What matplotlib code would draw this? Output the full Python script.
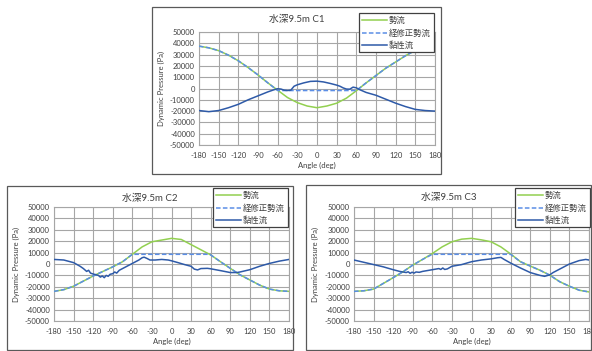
import matplotlib
matplotlib.use("Agg")
import matplotlib.pyplot as plt
from matplotlib.patches import Rectangle
from matplotlib.lines import Line2D

plt.rcParams['font.family'] = ['Lato', 'Noto Sans CJK JP', 'DejaVu Sans']
plt.rcParams['axes.unicode_minus'] = False

W, H = 592, 351

# --- data ---
ang15 = [-180, -165, -150, -135, -120, -105, -90, -75, -60, -45, -30, -15, 0,
         15, 30, 45, 60, 75, 90, 105, 120, 135, 150, 165, 180]

c1_pot = [37500, 36000, 33500, 29500, 24500, 18500, 12000, 5000, -1500, -8000, -12500, -15500, -17000,
          -15500, -13000, -8500, -2000, 5000, 11500, 18000, 23500, 29000, 33800, 36500, 38000]
c1_mod_ang = [-180, -165, -150, -135, -120, -105, -90, -75, -60, 60, 75, 90, 105, 120, 135, 150, 165, 180]
c1_mod = [37500, 36000, 33500, 29500, 24500, 18500, 12000, 5000, -1800, -1800, 5000, 11500, 18000,
          23500, 29000, 33800, 36500, 38000]
c1_vis_ang = [-180, -165, -150, -135, -120, -105, -90, -75, -65, -60, -55, -50, -45, -40, -35, -30,
              -20, -10, 0, 10, 20, 30, 35, 40, 45, 50, 55, 60, 65, 75, 90, 105, 120, 135, 150, 165, 180]
c1_vis = [-19500, -20500, -19500, -17000, -14000, -10000, -6500, -3000, -1000, -200, -500, -1500,
          -1800, -1500, 2000, 3300, 5000, 6300, 6500, 5800, 4500, 3000, 2000, 500, -500, -600, 1200,
          600, -1000, -3500, -6000, -9500, -13000, -16000, -18500, -19500, -20000]

c2_pot = [-24000, -22500, -19500, -15000, -10500, -6500, -2500, 2000, 8500, 15000, 19500, 21000, 22500,
          21500, 17000, 12500, 8000, 2000, -3800, -9500, -14000, -18500, -22000, -23500, -24000]
c2_mod_ang = [-180, -165, -150, -135, -120, -105, -90, -75, -60, 58, 60, 75, 90, 105, 120, 135, 150, 165, 180]
c2_mod = [-24000, -22500, -19500, -15000, -10500, -6500, -2500, 2000, 8500, 8500, 8000, 2000, -3800,
          -9500, -14000, -18500, -22000, -23500, -24000]
c2_vis_ang = [-180, -165, -150, -140, -135, -130, -127, -124, -120, -115, -112, -109, -106, -103, -100,
              -97, -94, -90, -87, -84, -80, -75, -70, -65, -60, -55, -50, -45, -42, -38, -33, -25, -15,
              -5, 0, 10, 20, 30, 35, 40, 45, 55, 60, 75, 90, 100, 105, 120, 135, 150, 165, 180]
c2_vis = [4000, 3500, 1200, -2000, -4000, -6500, -5500, -8000, -8800, -9500, -10000, -11500, -10500,
          -12000, -10000, -10800, -9000, -8500, -7000, -8000, -5500, -4000, -2500, -1000, 500, 2000, 3500,
          5500, 6000, 5000, 3500, 3500, 4000, 3500, 2800, 1200, -500, -2000, -4500, -5200, -4000, -3800,
          -4200, -5800, -7500, -7500, -7000, -5000, -2000, 500, 2500, 4000]

c3_pot = [-24000, -23500, -22000, -17000, -12000, -6800, -1000, 4000, 9200, 15000, 19500, 21800, 22500,
          21200, 19500, 15000, 8800, 2000, -1800, -5500, -9800, -15500, -19500, -23000, -24500]
c3_mod_ang = [-180, -165, -150, -135, -120, -105, -90, -75, -60, 60, 75, 90, 105, 120, 135, 150, 165, 180]
c3_mod = [-24000, -23500, -22000, -17000, -12000, -6800, -1000, 4000, 8500, 8500, 2000, -1800, -5500,
          -9800, -15500, -19500, -23000, -24500]
c3_vis_ang = [-180, -165, -150, -135, -120, -110, -105, -100, -97, -94, -91, -88, -85, -80, -75, -70,
              -65, -60, -55, -50, -47, -44, -41, -37, -30, -15, 0, 15, 30, 40, 45, 50, 60, 75, 90, 105,
              112, 120, 125, 135, 150, 165, 175, 180]
c3_vis = [3500, 1500, -500, -2500, -5000, -6500, -7000, -7500, -6800, -8200, -7200, -8000, -7000, -7300,
          -6500, -6000, -5500, -5000, -4500, -4000, -4800, -3500, -4800, -4300, -2000, -500, 2000, 3500,
          4500, 5500, 5800, 4000, 800, -3500, -7500, -10000, -10800, -9500, -7500, -4500, 0, 3000, 4000, 3500]

titles = ['水深9.5m C1', '水深9.5m C2', '水深9.5m C3']
labels = ['勢流', '経修正勢流', '黏性流']
xticks = list(range(-180, 181, 30))
yticks = list(range(-50000, 50001, 10000))

GREEN = '#92D050'
LBLUE = '#5B8EE6'
DBLUE = '#2E5AA8'
GRID = '#A6A6A6'


def fx(px):
    return px / W


def fy(py):
    return 1 - py / H


def panel(fig, frame, plot, legend_at, title, pot, mod_ang, mod, vis_ang, vis):
    fl, ft, fr, fb = frame
    fig.add_artist(Rectangle((fx(fl), fy(fb)), fx(fr - fl), (fb - ft) / H,
                             transform=fig.transFigure, fill=False, edgecolor='#595959', lw=0.9))
    pl, pt, pr, pb = plot
    ax = fig.add_axes([fx(pl), fy(pb), fx(pr - pl), (pb - pt) / H])
    ax.plot(ang15, pot, color=GREEN, lw=1.1, zorder=3)
    ax.plot(mod_ang, mod, color=LBLUE, lw=1.1, ls=(0, (3, 1.5)), zorder=4)
    ax.plot(vis_ang, vis, color=DBLUE, lw=1.1, zorder=5)
    ax.set_xlim(-180, 180)
    ax.set_ylim(-50000, 50000)
    ax.set_xticks(xticks)
    ax.set_yticks(yticks)
    ax.tick_params(length=0, labelsize=5.5, colors='#404040', pad=3)
    ax.tick_params(axis='x', pad=5)
    ax.grid(True, color=GRID, lw=0.8)
    for s in ax.spines.values():
        s.set_color(GRID)
        s.set_linewidth(0.8)
    ax.set_axisbelow(True)

    cx = (fl + fr) / 2
    fig.text(fx(cx), fy(ft + 12), title, ha='center', va='center', fontsize=7, color='#404040')
    fig.text(fx((pl + pr) / 2), fy(fb - 9), 'Angle (deg)', ha='center', va='center',
             fontsize=5.5, color='#404040')
    fig.text(fx(fl + 9), fy((pt + pb) / 2), 'Dynamic Pressure (Pa)', ha='center', va='center',
             rotation=90, fontsize=5.5, color='#404040')

    handles = [Line2D([], [], color=GREEN, lw=1.1),
               Line2D([], [], color=LBLUE, lw=1.1, ls=(0, (3, 1.5))),
               Line2D([], [], color=DBLUE, lw=1.1)]
    leg = ax.legend(handles, labels, loc='upper left',
                    bbox_to_anchor=(fx(legend_at[0]), fy(legend_at[1])),
                    bbox_transform=fig.transFigure, fontsize=6, fancybox=False,
                    framealpha=1, edgecolor='#404040', handlelength=3.0,
                    handletextpad=0.2, labelspacing=0.45, borderpad=0.4, borderaxespad=0)
    leg.get_frame().set_linewidth(0.9)
    leg.set_zorder(10)
    for t in leg.get_texts():
        t.set_color('#404040')
    return ax


fig = plt.figure(figsize=(W / 100, H / 100), dpi=100)

panel(fig, (152, 7, 441, 174), (199, 32, 435, 145), (359, 13), titles[0],
      c1_pot, c1_mod_ang, c1_mod, c1_vis_ang, c1_vis)
panel(fig, (7, 186, 293, 350), (54, 207, 289, 321), (213, 188), titles[1],
      c2_pot, c2_mod_ang, c2_mod, c2_vis_ang, c2_vis)
panel(fig, (306, 185, 591, 350), (354, 207, 589, 321), (515, 188), titles[2],
      c3_pot, c3_mod_ang, c3_mod, c3_vis_ang, c3_vis)

fig.savefig('out.png', dpi=100)
